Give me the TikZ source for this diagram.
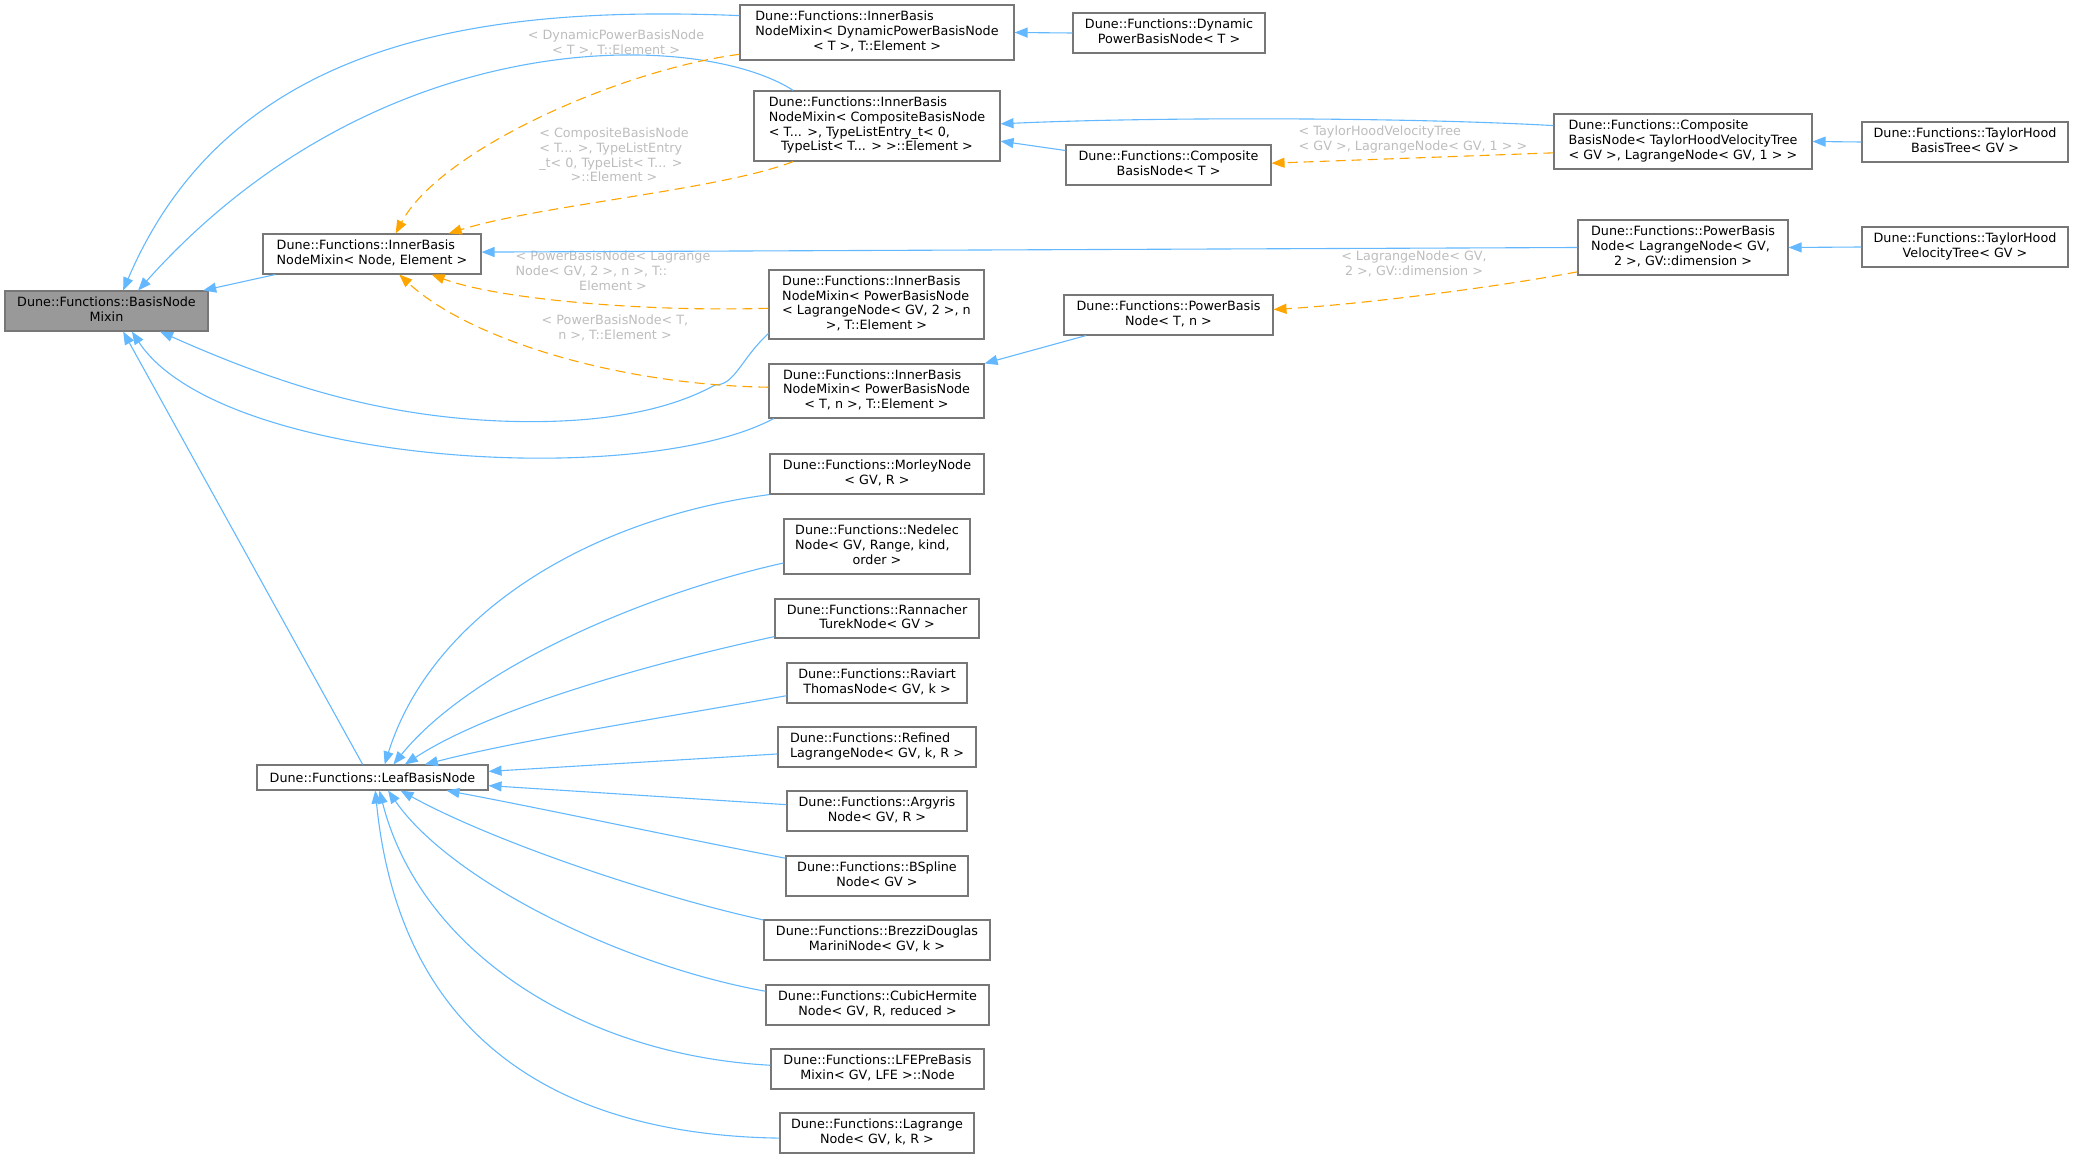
\documentclass[tikz,border=0pt]{standalone}
\usepackage{fontspec}
\setmainfont{DejaVu Sans}
\usetikzlibrary{arrows.meta}
\definecolor{eblue}{HTML}{63B8FF}
\definecolor{eorange}{HTML}{FFA500}
\definecolor{nborder}{HTML}{777777}
\definecolor{bnmfill}{HTML}{999999}
\definecolor{lgray}{HTML}{BDBDBD}
\newcommand{\dfont}{\fontsize{6.375pt}{7.35pt}\selectfont}
\newcommand{\lastc}[1]{\multicolumn{1}{@{}c@{}}{#1}}
\newcommand{\ml}[1]{\begin{tabular}{@{}l@{}}#1\end{tabular}}
\tikzset{
  box/.style={draw=nborder, line width=0.55pt, fill=white, inner sep=0pt, font=\dfont, text=black},
  hw/.style={minimum width=#1},
  hh/.style={minimum height=#1},
  inh/.style={draw=eblue, line width=0.55pt, -{Triangle[length=6.5pt,width=5pt]}},
  tmpl/.style={draw=eorange, line width=0.55pt, dash pattern=on 5pt off 3pt, -{Triangle[length=6.5pt,width=5pt]}},
  lbl/.style={font=\dfont, text=lgray, inner sep=0pt},
}
\begin{document}
\begin{tikzpicture}[x=0.5pt,y=-0.5pt]
\useasboundingbox (0,0) rectangle (2073,1155);
% ---- nodes ----
\node[box, fill=bnmfill, hw=101.5pt, hh=20pt] (bnm) at (106.5,311) {\ml{Dune::Functions::BasisNode\\\lastc{Mixin}}};
\node[box, hw=109pt, hh=20pt] (ne) at (372,254) {\ml{Dune::Functions::InnerBasis\\\lastc{NodeMixin< Node, Element >}}};
\node[box, hw=115.5pt, hh=12.5pt] (leaf) at (372.5,777.5) {Dune::Functions::LeafBasisNode};
\node[box, hw=137pt, hh=27.5pt] (dyni) at (877,32.5) {\ml{Dune::Functions::InnerBasis\\NodeMixin< DynamicPowerBasisNode\\\lastc{< T >, T::Element >}}};
\node[box, hw=123pt, hh=35pt] (compi) at (877,126) {\ml{Dune::Functions::InnerBasis\\NodeMixin< CompositeBasisNode\\< T... >, TypeListEntry\_t< 0,\\\lastc{TypeList< T... > >::Element >}}};
\node[box, hw=107.5pt, hh=34.5pt] (plagi) at (876.5,304.5) {\ml{Dune::Functions::InnerBasis\\NodeMixin< PowerBasisNode\\< LagrangeNode< GV, 2 >, n\\\lastc{>, T::Element >}}};
\node[box, hw=107.5pt, hh=27pt] (tni) at (876.5,391) {\ml{Dune::Functions::InnerBasis\\NodeMixin< PowerBasisNode\\\lastc{< T, n >, T::Element >}}};
\node[box, hw=96pt, hh=20pt] (dynp) at (1169,33) {\ml{Dune::Functions::Dynamic\\\lastc{PowerBasisNode< T >}}};
\node[box, hw=102.5pt, hh=20pt] (cbnt) at (1168.5,165) {\ml{Dune::Functions::Composite\\\lastc{BasisNode< T >}}};
\node[box, hw=129pt, hh=27.5pt] (cbnth) at (1683,141.5) {\ml{Dune::Functions::Composite\\BasisNode< TaylorHoodVelocityTree\\\lastc{< GV >, LagrangeNode< GV, 1 > >}}};
\node[box, hw=103pt, hh=20pt] (thbt) at (1965,142) {\ml{Dune::Functions::TaylorHood\\\lastc{BasisTree< GV >}}};
\node[box, hw=105pt, hh=27.5pt] (pbnl) at (1683,247.5) {\ml{Dune::Functions::PowerBasis\\Node< LagrangeNode< GV,\\\lastc{2 >, GV::dimension >}}};
\node[box, hw=103pt, hh=20pt] (thvt) at (1965,247) {\ml{Dune::Functions::TaylorHood\\\lastc{VelocityTree< GV >}}};
\node[box, hw=104.5pt, hh=20pt] (pbntn) at (1168.5,315) {\ml{Dune::Functions::PowerBasis\\\lastc{Node< T, n >}}};
\node[box, hw=107pt, hh=20pt] (mor) at (877,474) {\ml{Dune::Functions::MorleyNode\\\lastc{< GV, R >}}};
\node[box, hw=93pt, hh=27.5pt] (ned) at (877,546.5) {\ml{Dune::Functions::Nedelec\\Node< GV, Range, kind,\\\lastc{order >}}};
\node[box, hw=102pt, hh=19.5pt] (ran) at (877,618.5) {\ml{Dune::Functions::Rannacher\\\lastc{TurekNode< GV >}}};
\node[box, hw=90pt, hh=20pt] (rav) at (877,683) {\ml{Dune::Functions::Raviart\\\lastc{ThomasNode< GV, k >}}};
\node[box, hw=99pt, hh=20pt] (rfd) at (877,747) {\ml{Dune::Functions::Refined\\\lastc{LagrangeNode< GV, k, R >}}};
\node[box, hw=90pt, hh=20pt] (arg) at (877,811) {\ml{Dune::Functions::Argyris\\\lastc{Node< GV, R >}}};
\node[box, hw=91pt, hh=20pt] (bsp) at (877,876) {\ml{Dune::Functions::BSpline\\\lastc{Node< GV >}}};
\node[box, hw=113pt, hh=20pt] (bre) at (877,940) {\ml{Dune::Functions::BrezziDouglas\\\lastc{MariniNode< GV, k >}}};
\node[box, hw=111.5pt, hh=20pt] (cub) at (877.5,1005) {\ml{Dune::Functions::CubicHermite\\\lastc{Node< GV, R, reduced >}}};
\node[box, hw=106.5pt, hh=20pt] (lfe) at (877.5,1069) {\ml{Dune::Functions::LFEPreBasis\\\lastc{Mixin< GV, LFE >::Node}}};
\node[box, hw=97pt, hh=20pt] (lag) at (877,1133) {\ml{Dune::Functions::Lagrange\\\lastc{Node< GV, k, R >}}};
% ---- edge labels ----
\node[lbl] (l1) at (616,44) {\ml{< DynamicPowerBasisNode\\\lastc{< T >, T::Element >}}};
\node[lbl] (l2) at (614,157) {\ml{< CompositeBasisNode\\< T... >, TypeListEntry\\\_t< 0, TypeList< T... >\\\lastc{>::Element >}}};
\node[lbl] (l3) at (613,272.5) {\ml{< PowerBasisNode< Lagrange\\Node< GV, 2 >, n >, T::\\\lastc{Element >}}};
\node[lbl] (l4) at (615,329) {\ml{< PowerBasisNode< T,\\\lastc{n >, T::Element >}}};
\node[lbl] (l5) at (1413,140) {\ml{< TaylorHoodVelocityTree\\\lastc{< GV >, LagrangeNode< GV, 1 > >}}};
\node[lbl] (l6) at (1414,265) {\ml{< LagrangeNode< GV,\\\lastc{2 >, GV::dimension >}}};
% ---- inheritance edges (blue) ----
\draw[inh] (dyni.173.5) .. controls (480,5) and (230,40) .. (bnm.51.2);
\draw[inh] (compi.157.1) .. controls (700,30) and (380,20) .. (bnm.33);
\draw[inh] (ne.-168) -- (bnm.12.1);
\draw[inh] (leaf.127.2) -- (bnm.-51.2);
\draw[inh] (plagi.195.3) .. controls (740,360) and (735,385) .. (715,385) .. controls (670,410) and (600,425) .. (500,421) .. controls (380,416) and (280,385) .. (bnm.-21.5);
\draw[inh] (tni.195.2) .. controls (640,490) and (220,465) .. (bnm.-39.7);
\draw[inh] (dynp.west) -- (dyni.east);
\draw[inh] (cbnt.172.2) -- (compi.-7.9);
\draw[inh] (cbnth.173.6) .. controls (1400,117) and (1150,117) .. (compi.1.9);
\draw[inh] (thbt.west) -- (cbnth.east);
\draw[inh] (pbnl.west) -- (ne.1.6);
\draw[inh] (thvt.west) -- (pbnl.east);
\draw[inh] (pbntn.194.1) -- (tni.north east);
% leaf children
\draw[inh] (mor.south west) .. controls (580,520) and (430,620) .. (leaf.47.4);
\draw[inh] (ned.190.7) .. controls (640,595) and (470,670) .. (leaf.32.7);
\draw[inh] (ran.190.3) .. controls (620,670) and (480,715) .. (leaf.22.96);
\draw[inh] (rav.188.8) .. controls (650,720) and (520,740) .. (leaf.14.45);
\draw[inh] (rfd.184) -- (leaf.3.2);
\draw[inh] (arg.176.8) -- (leaf.-4.2);
\draw[inh] (bsp.169.4) .. controls (680,838) and (540,808) .. (leaf.-10.3);
\draw[inh] (bre.170) .. controls (650,895) and (490,840) .. (leaf.-25.3);
\draw[inh] (cub.173.3) .. controls (620,965) and (450,880) .. (leaf.-40.8);
\draw[inh] (lfe.178.4) .. controls (580,1055) and (420,950) .. (leaf.-62.5);
\draw[inh] (lag.183) .. controls (560,1135) and (400,1040) .. (leaf.-78.7);
% ---- template edges (orange dashed) ----
\draw[tmpl] (dyni.-171.9) .. controls (620,70) and (440,150) .. (ne.41);
\draw[tmpl] (compi.-157.1) .. controls (720,190) and (540,205) .. (ne.15.3);
\draw[tmpl] (plagi.182.4) .. controls (650,312) and (500,300) .. (ne.-19.3);
\draw[tmpl] (tni.178.9) .. controls (620,385) and (470,340) .. (ne.-37.6);
\draw[tmpl] (cbnth.185.5) -- (cbnt.1.1);
\draw[tmpl] (pbnl.193.7) .. controls (1480,290) and (1350,305) .. (pbntn.3.8);
\end{tikzpicture}
\end{document}
